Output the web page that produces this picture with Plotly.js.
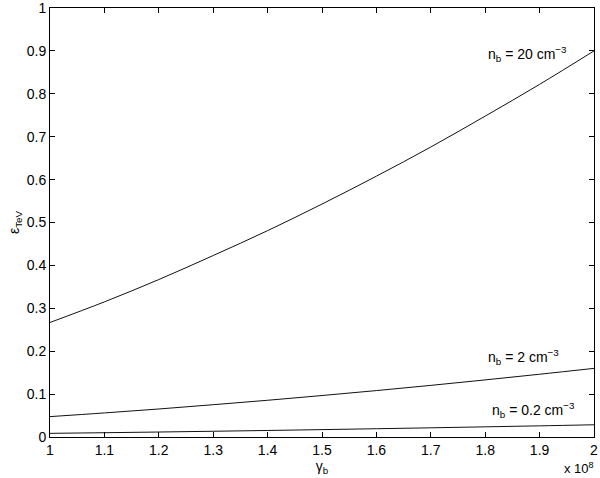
<!DOCTYPE html>
<html>
<head>
<meta charset="utf-8">
<script src="https://cdn.plot.ly/plotly-3.0.1.min.js"></script>
<style>html,body{margin:0;padding:0;background:#fff;}#chart{width:600px;height:478px;}</style>
</head>
<body>
<div id="chart"></div>
<script>
// gamma_b in units of 1e8
var gamma = [1.0, 1.1, 1.2, 1.3, 1.4, 1.5, 1.6, 1.7, 1.8, 1.9, 2.0];
var eps_n20 = [0.267, 0.315, 0.367, 0.423, 0.481, 0.543, 0.608, 0.676, 0.748, 0.822, 0.900];
var eps_n2 = [0.0475, 0.0561, 0.0653, 0.0753, 0.0856, 0.0967, 0.1082, 0.1203, 0.1331, 0.1463, 0.160];
var eps_n02 = [0.0085, 0.0100, 0.0116, 0.0134, 0.0152, 0.0172, 0.0193, 0.0214, 0.0237, 0.0260, 0.0285];
var xTicks = [1, 1.1, 1.2, 1.3, 1.4, 1.5, 1.6, 1.7, 1.8, 1.9, 2];
var xTickText = ['1', '1.1', '1.2', '1.3', '1.4', '1.5', '1.6', '1.7', '1.8', '1.9', '2'];
var yTicks = [0, 0.1, 0.2, 0.3, 0.4, 0.5, 0.6, 0.7, 0.8, 0.9, 1];
var yTickText = ['0', '0.1', '0.2', '0.3', '0.4', '0.5', '0.6', '0.7', '0.8', '0.9', '1'];
var labels = [
  {text: 'n<sub>b</sub> = 20 cm<sup>\u22123</sup>', x: 1.878, y: 0.893},
  {text: 'n<sub>b</sub> = 2 cm<sup>\u22123</sup>', x: 1.871, y: 0.187},
  {text: 'n<sub>b</sub> = 0.2 cm<sup>\u22123</sup>', x: 1.888, y: 0.063}
];

var fam = 'Liberation Sans, Arial, sans-serif';
var font = {family: fam, size: 14, color: '#000'};
var lineStyle = {color: '#111', width: 1, shape: 'spline'};
var traces = [eps_n20, eps_n2, eps_n02].map(function (ys) {
  return {x: gamma, y: ys, type: 'scatter', mode: 'lines', line: lineStyle, hoverinfo: 'skip'};
});

var axisCommon = {
  showline: true, linecolor: '#000', linewidth: 1, mirror: 'ticks',
  ticks: 'inside', ticklen: 5, tickcolor: '#000', tickwidth: 1,
  showgrid: false, zeroline: false, tickfont: font, ticklabeloverflow: 'allow'
};

var annotations = labels.map(function (l) {
  return {text: l.text, x: l.x, y: l.y, xref: 'x', yref: 'y', xanchor: 'center', yanchor: 'middle',
          showarrow: false, font: {family: fam, size: 14, color: '#000'}};
});
annotations.push({text: 'x 10<sup>8</sup>', xref: 'paper', yref: 'paper', x: 1.003, y: -0.05,
  xanchor: 'right', yanchor: 'top', showarrow: false, font: {family: fam, size: 13, color: '#000'}});

var layout = {
  width: 600, height: 478,
  margin: {l: 49.5, r: 6, t: 7.5, b: 41},
  paper_bgcolor: '#fff', plot_bgcolor: '#fff',
  showlegend: false,
  xaxis: Object.assign({}, axisCommon, {
    range: [1, 2], tickvals: xTicks, ticktext: xTickText,
    title: {text: '\u03b3<sub>b</sub>', font: {family: fam, size: 14, color: '#000'}, standoff: 1}
  }),
  yaxis: Object.assign({}, axisCommon, {
    range: [0, 1], tickvals: yTicks, ticktext: yTickText,
    title: {text: '\u03b5<sub>TeV</sub>', font: {family: fam, size: 14, color: '#000'}, standoff: 3}
  }),
  annotations: annotations
};

Plotly.newPlot('chart', traces, layout, {staticPlot: true, displayModeBar: false});
</script>
</body>
</html>
